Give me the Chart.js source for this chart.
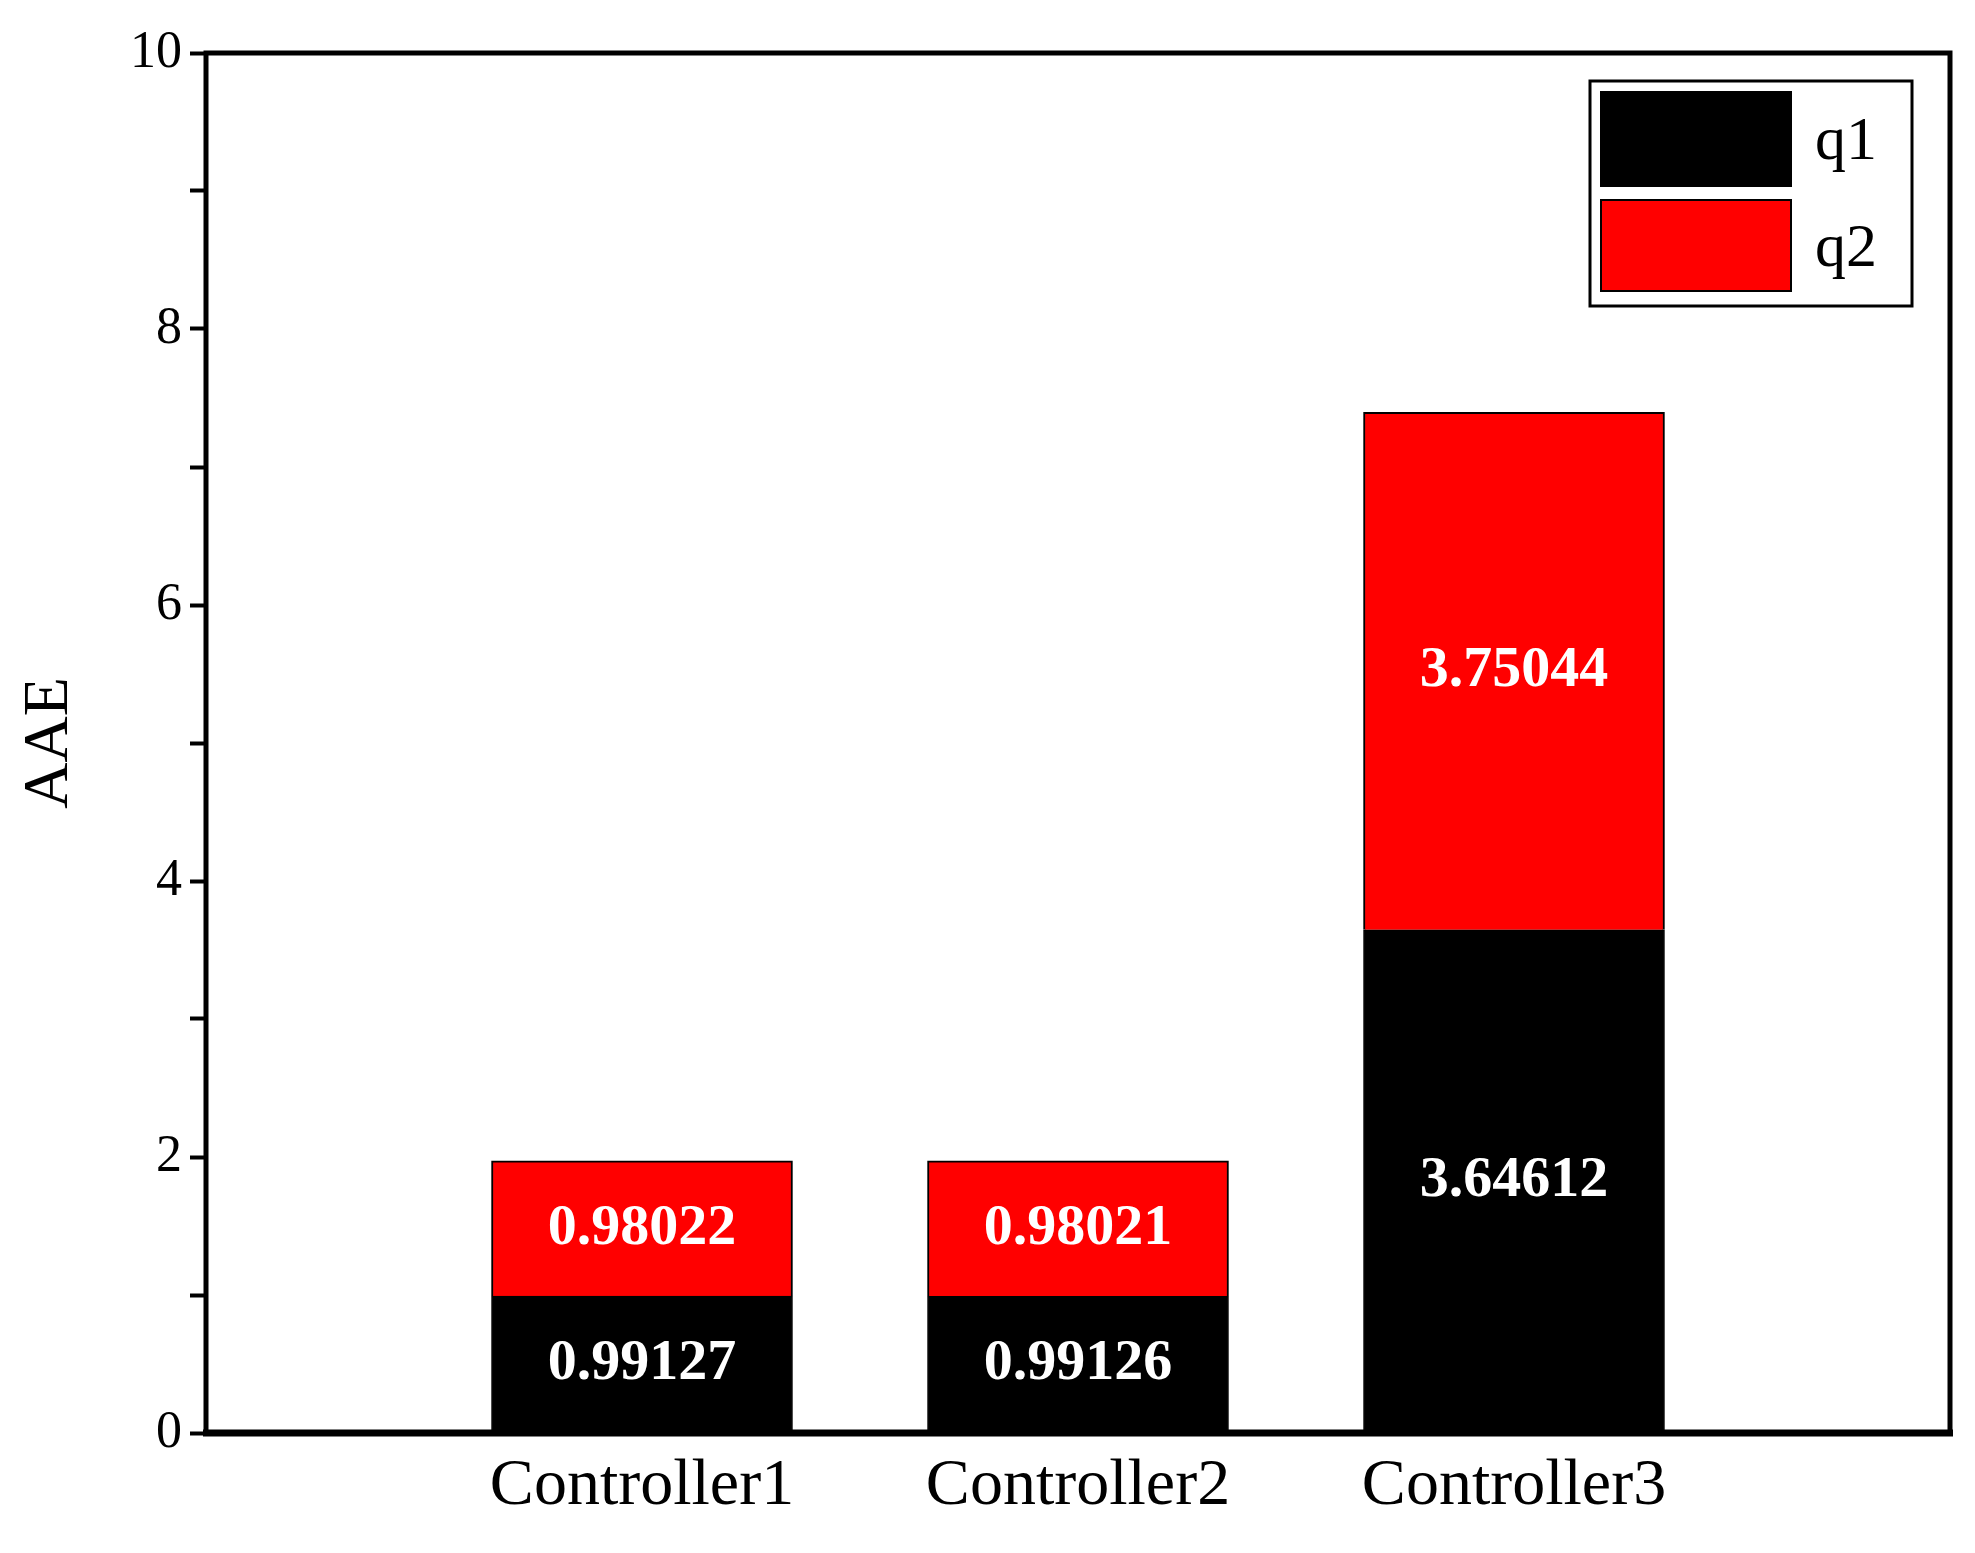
<!DOCTYPE html>
<html>
<head>
<meta charset="utf-8">
<script src="https://cdn.jsdelivr.net/npm/chart.js@4"></script>
<style>
body{margin:0;background:#fff}
#wrap{width:1975px;height:1553px}
</style>
</head>
<body>
<div id="wrap"><canvas id="aae"></canvas></div>
<script>
var categories = ['', 'Controller1', 'Controller2', 'Controller3', ''];
var q1 = [null, 0.99127, 0.99126, 3.64612, null];
var q2 = [null, 0.98022, 0.98021, 3.75044, null];
var yTicks = [0, 2, 4, 6, 8, 10];

var FONT = '"Liberation Serif", "Times New Roman", serif';

// white bold numbers in the middle of each segment
var valueLabels = {
    id: 'valueLabels',
    afterDatasetsDraw: function(chart) {
        var ctx = chart.ctx;
        ctx.save();
        ctx.fillStyle = '#fff';
        ctx.font = 'bold 58px ' + FONT;
        ctx.textAlign = 'center';
        ctx.textBaseline = 'middle';
        chart.data.datasets.forEach(function(ds, i) {
            chart.getDatasetMeta(i).data.forEach(function(bar, j) {
                if (ds.data[j] == null) return;
                var p = bar.getProps(['x', 'y', 'base'], true);
                ctx.fillText(ds.data[j].toFixed(5), p.x, (p.y + p.base) / 2);
            });
        });
        ctx.restore();
    }
};

// frame around the plot and legend box in the top right
var frameAndLegend = {
    id: 'frameAndLegend',
    afterDraw: function(chart) {
        var ctx = chart.ctx, a = chart.chartArea;
        ctx.save();
        ctx.strokeStyle = '#000';
        ctx.lineWidth = 5;
        ctx.strokeRect(a.left, a.top, a.right - a.left, a.bottom - a.top);
        ctx.lineWidth = 7;
        ctx.beginPath();
        ctx.moveTo(a.left - 3, a.bottom);
        ctx.lineTo(a.right + 3, a.bottom);
        ctx.stroke();

        ctx.lineWidth = 3;
        ctx.strokeRect(1590, 81, 322, 225);
        var rows = [[92, 186], [200, 291]];
        ctx.font = '62px ' + FONT;
        ctx.textBaseline = 'middle';
        chart.data.datasets.forEach(function(ds, i) {
            var r = rows[i];
            ctx.fillStyle = ds.backgroundColor;
            ctx.fillRect(1601, r[0], 190, r[1] - r[0]);
            ctx.lineWidth = 2;
            ctx.strokeRect(1601, r[0], 190, r[1] - r[0]);
            ctx.fillStyle = '#000';
            ctx.fillText(ds.label, 1815, (r[0] + r[1]) / 2 + 4);
        });
        ctx.restore();
    }
};

new Chart(document.getElementById('aae'), {
    type: 'bar',
    data: {
        labels: categories,
        datasets: [
            {label: 'q1', data: q1, backgroundColor: '#000000', borderColor: '#000', borderWidth: 1},
            {label: 'q2', data: q2, backgroundColor: '#ff0000', borderColor: '#000', borderWidth: 2}
        ]
    },
    options: {
        responsive: true,
        maintainAspectRatio: false,
        animation: false,
        layout: {padding: {top: 53, right: 25}},
        plugins: {legend: {display: false}, tooltip: {enabled: false}},
        datasets: {bar: {barThickness: 301}},
        scales: {
            x: {
                stacked: true,
                offset: false,
                grid: {display: false, drawTicks: false},
                border: {display: false},
                ticks: {color: '#000', font: {family: FONT, size: 66}, padding: 14, autoSkip: false, maxRotation: 0},
                afterFit: function(s) { s.height = 120; }
            },
            y: {
                stacked: true,
                min: 0,
                max: 10,
                ticks: {
                    stepSize: 1,
                    color: '#000',
                    font: {family: FONT, size: 52},
                    padding: 8,
                    callback: function(v) { return yTicks.indexOf(v) >= 0 ? v : ''; }
                },
                grid: {drawOnChartArea: false, tickLength: 16, tickWidth: 4, tickColor: '#000'},
                border: {display: false},
                title: {display: true, text: 'AAE', color: '#000', font: {family: FONT, size: 64}, padding: 12},
                afterFit: function(s) { s.width = 206; }
            }
        }
    },
    plugins: [valueLabels, frameAndLegend]
});
</script>
</body>
</html>
